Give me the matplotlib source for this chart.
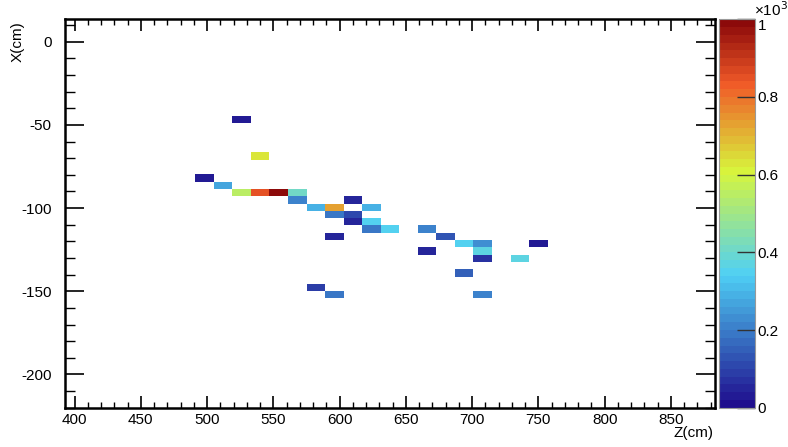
import numpy as np
import matplotlib
matplotlib.use("Agg")
import matplotlib.pyplot as plt
from matplotlib.colors import LinearSegmentedColormap, Normalize
from matplotlib.ticker import MultipleLocator, FuncFormatter

# ---- binning of the 2D histogram ----
z_range = (393.0, 883.0)
z_bin = 14.0
x_range = (-220.0, 13.5)
x_bin = 4.39
x_edge_ref = -79.7          # one of the X bin edges

# ---- filled bins: centres (cm) and contents ----
z_cells = [526, 540, 498, 512, 526, 540, 554, 568, 568, 610, 582, 596, 624,
           596, 610, 610, 624, 624, 638, 666, 596, 680, 694, 708, 750, 666,
           708, 708, 736, 694, 582, 596, 708]
x_cells = [-46.8, -68.7, -81.9, -86.3, -90.7, -90.7, -90.7, -90.7, -95.1,
           -95.1, -99.5, -99.5, -99.5, -103.9, -103.9, -108.2, -108.2,
           -112.6, -112.6, -112.6, -117.0, -117.0, -121.4, -121.4, -121.4,
           -125.8, -125.8, -130.2, -130.2, -139.0, -147.8, -152.1, -152.1]
counts = [30, 620, 30, 260, 550, 840, 1000, 400, 200, 40, 280, 720, 290,
          180, 100, 40, 350, 180, 350, 200, 50, 120, 350, 230, 30, 40,
          360, 60, 360, 150, 80, 190, 200]

cbar_ticks = [0, 200, 400, 600, 800, 1000]

# ---- colour palette ----
pal = LinearSegmentedColormap.from_list(
    "pal",
    [(0.00, "#1f0e8e"), (0.34, "#4fd0f5"), (0.61, "#d8f53c"),
     (0.84, "#f05a28"), (1.00, "#8c0a0a")])
pal = pal.resampled(50)

plt.rcParams['font.family'] = ['Liberation Sans', 'DejaVu Sans']
plt.rcParams['axes.unicode_minus'] = False

fig = plt.figure(figsize=(7.88, 4.47), dpi=100)
W, H = 788.0, 447.0
L, R, T, B = 65.3, 714.7, 19.3, 407.7
ax = fig.add_axes([L / W, 1 - B / H, (R - L) / W, (B - T) / H])
cax = fig.add_axes([719 / W, 1 - B / H, (755 - 719) / W, (B - T) / H])

z_edges = np.arange(z_range[0], z_range[1] + 0.5 * z_bin, z_bin)
k0 = int(np.floor((x_range[0] - x_edge_ref) / x_bin))
k1 = int(np.ceil((x_range[1] - x_edge_ref) / x_bin))
x_edges = x_edge_ref + x_bin * np.arange(k0, k1 + 1)

hist, _, _ = np.histogram2d(z_cells, x_cells, bins=[z_edges, x_edges],
                            weights=counts)
hist = np.ma.masked_equal(hist, 0)
norm = Normalize(vmin=0, vmax=1000)
mesh = ax.pcolormesh(z_edges, x_edges, hist.T, cmap=pal, norm=norm,
                     linewidth=0, antialiased=True)

ax.set_xlim(*z_range)
ax.set_ylim(*x_range)
for s in ax.spines.values():
    s.set_linewidth(1.8)
    s.set_color("black")

fs = 11
font = "Liberation Sans"
ax.xaxis.set_major_locator(MultipleLocator(50))
ax.xaxis.set_minor_locator(MultipleLocator(10))
ax.yaxis.set_major_locator(MultipleLocator(50))
ax.yaxis.set_minor_locator(MultipleLocator(10))
ax.tick_params(axis="x", which="major", direction="in", length=8.4, width=1.2,
               top=True, bottom=True, labelsize=fs, pad=4)
ax.tick_params(axis="x", which="minor", direction="in", length=4.2, width=1.0,
               top=True, bottom=True)
ax.tick_params(axis="y", which="major", direction="in", length=14, width=1.2,
               left=True, right=True, labelsize=fs, pad=10)
ax.tick_params(axis="y", which="minor", direction="in", length=7, width=1.0,
               left=True, right=True)
for lab in ax.get_xticklabels() + ax.get_yticklabels():
    lab.set_fontfamily(font)

fig.text(18 / W, 1 - 21 / H, "X(cm)", rotation=90, ha="center", va="top",
         fontsize=fs, family=font)
fig.text(714 / W, 1 - 433 / H, "Z(cm)", ha="right", va="center",
         fontsize=fs, family=font)

cb = fig.colorbar(mesh, cax=cax)
cb.outline.set_edgecolor("#999999")
cb.outline.set_linewidth(0.8)
cb.set_ticks(cbar_ticks)
cb.ax.yaxis.set_major_formatter(FuncFormatter(lambda v, p: f"{v/1000:g}"))
cb.ax.tick_params(direction="in", length=13, width=1.0, color="#333333",
                  labelsize=fs, pad=2)
cb.ax.minorticks_off()
cb_labels = cb.ax.get_yticklabels()
for lab in cb_labels:
    lab.set_fontfamily(font)
cb_labels[-1].set_va("top")
fig.text(754 / W, 1 - 16 / H, "\u00d710$^{3}$", ha="left", va="baseline",
         fontsize=fs, family=font)

fig.savefig("out.png", dpi=100)
